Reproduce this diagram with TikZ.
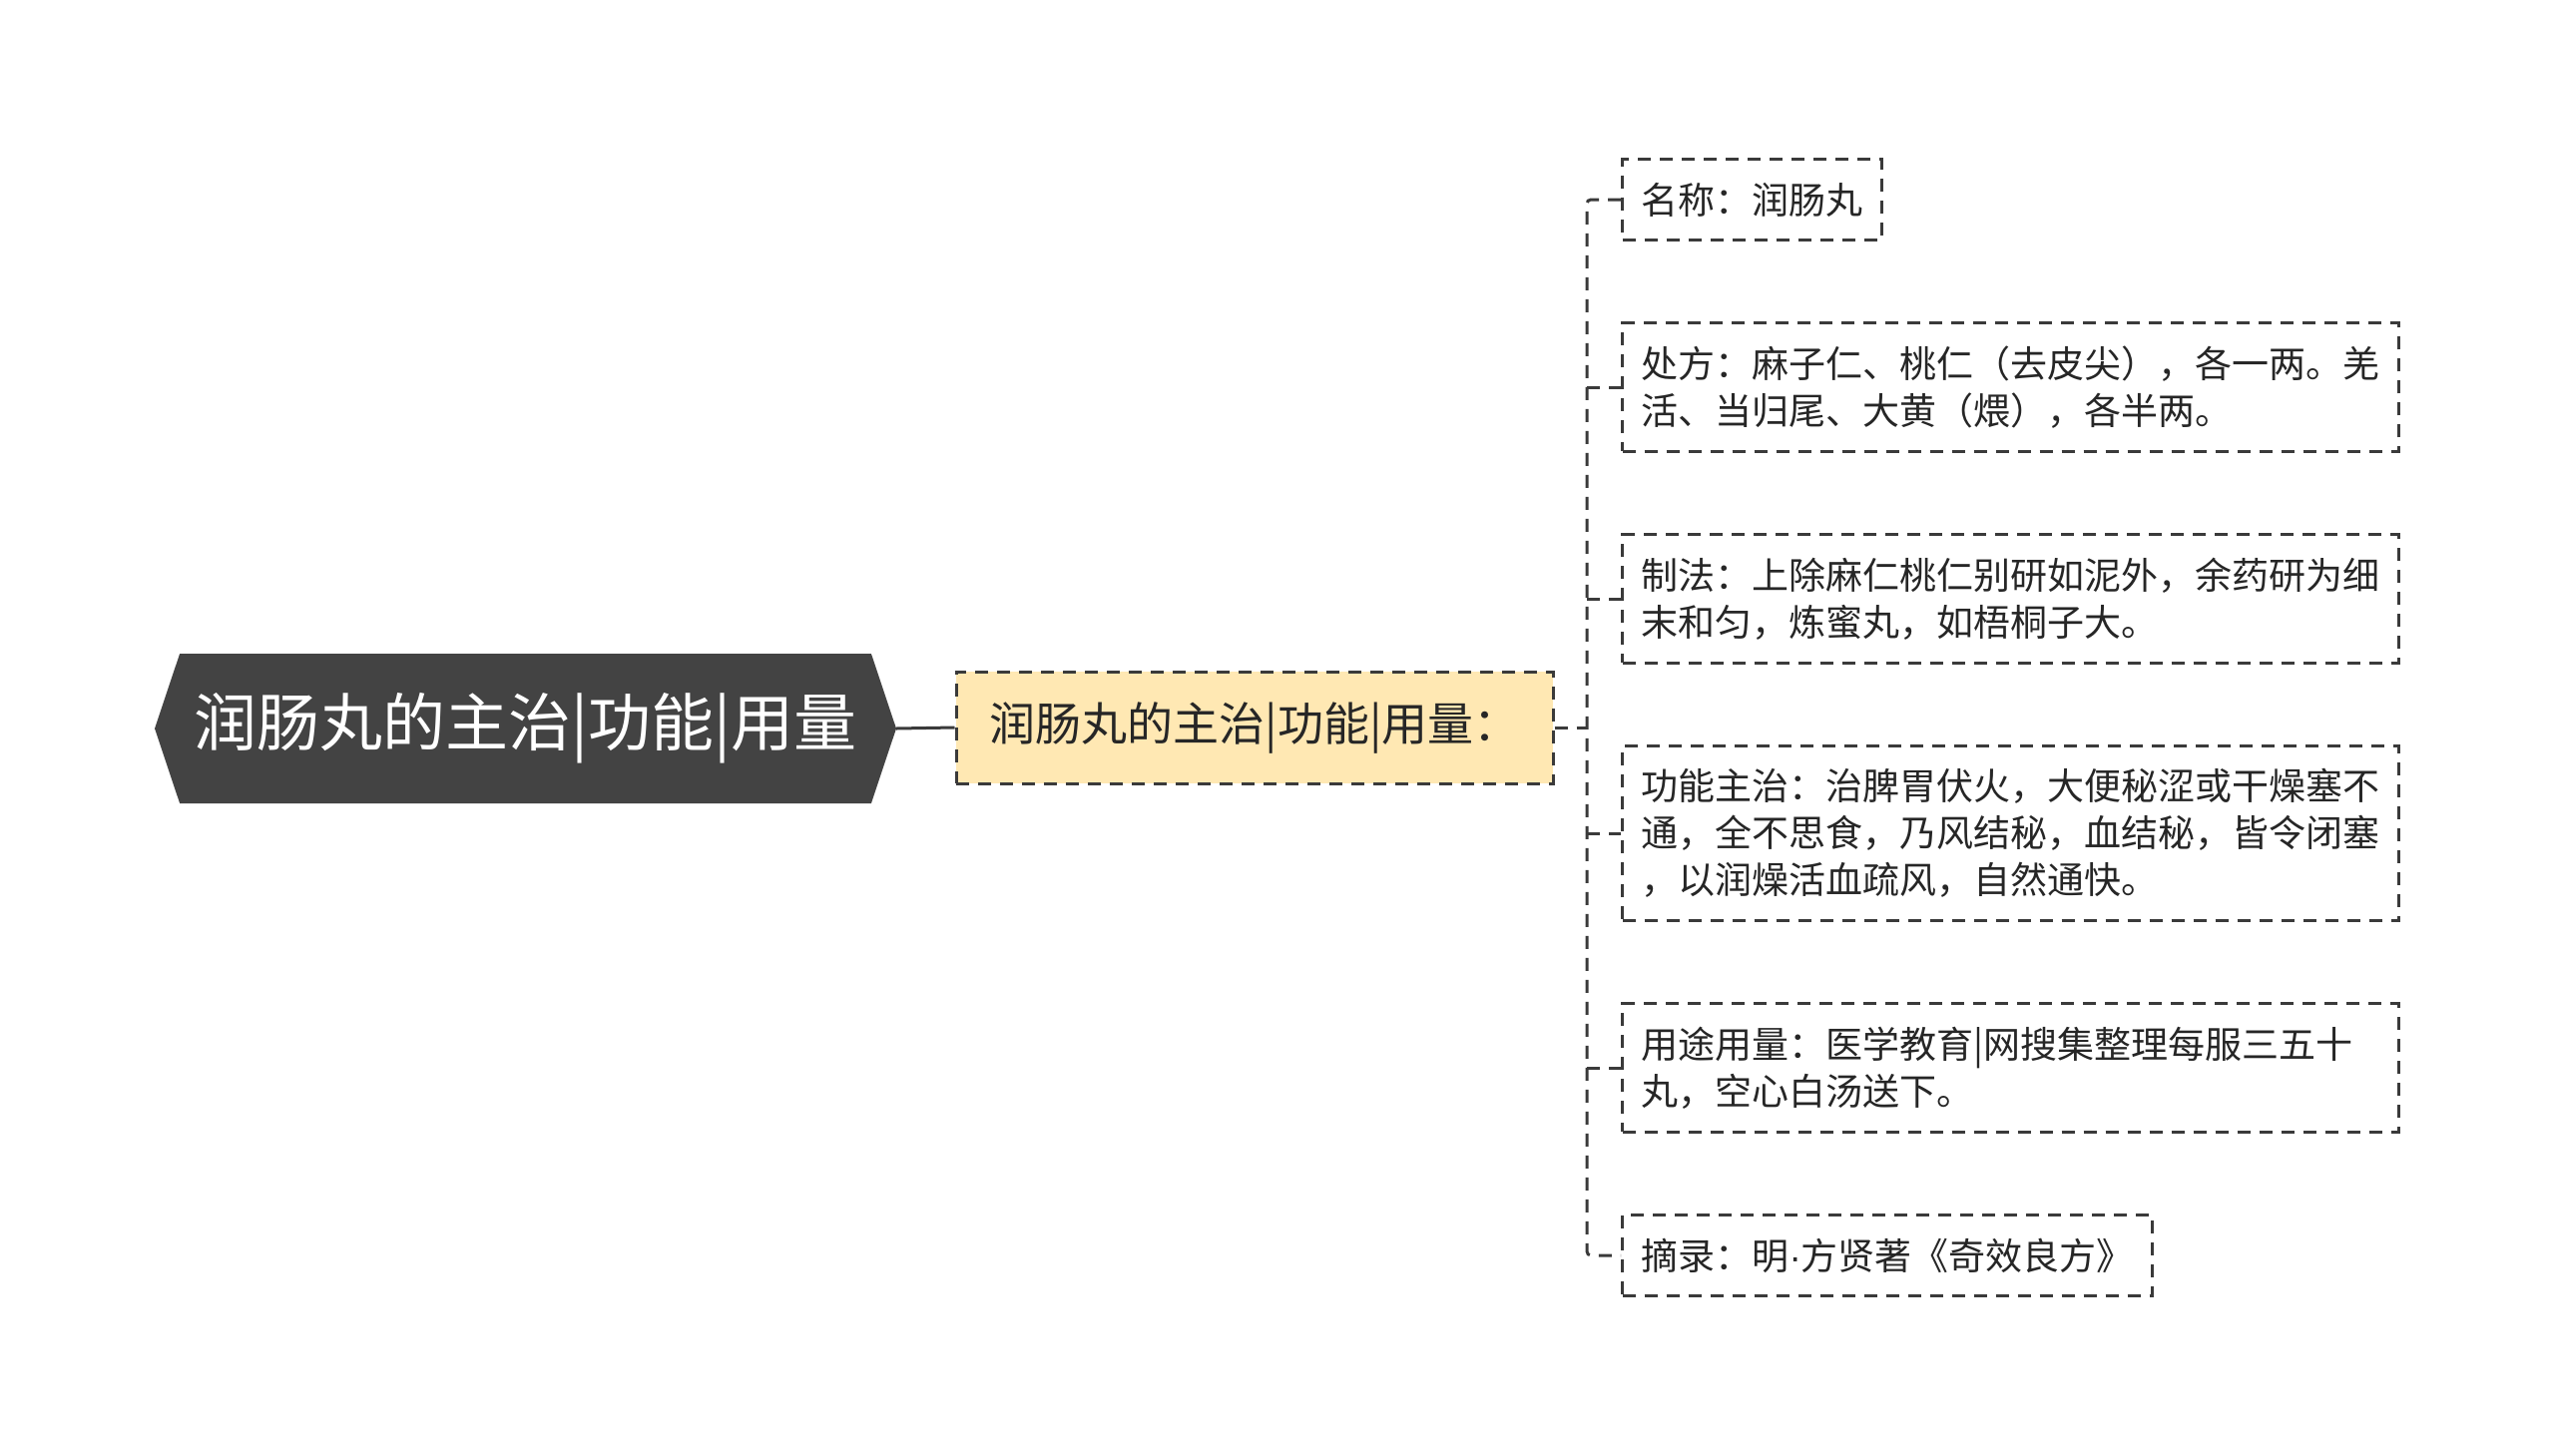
\documentclass[tikz,border=0pt]{standalone}
\usepackage{fontspec}
\setmainfont{Noto Sans CJK SC}
\newfontfamily\dotfont{Liberation Sans}
\usetikzlibrary{shapes.symbols}

\definecolor{rootgray}{HTML}{434343}
\definecolor{midfill}{HTML}{FFE8B3}
\definecolor{linegray}{HTML}{3A3A3A}

\tikzset{
  link/.style={draw=linegray, line width=3pt, dash pattern=on 13pt off 9pt},
  leaf/.style={link, anchor=west, align=left, inner xsep=19pt, inner ysep=23pt,
    text=black!85, font=\fontsize{37}{47}\selectfont},
  wide/.style={text width=740pt},
}

\begin{document}
\begin{tikzpicture}[x=1pt,y=-1pt]
\useasboundingbox (0,0) rectangle (2560,1459);

\node[shape=signal, signal to=west and east, signal pointer angle=143,
  fill=rootgray, text=white, minimum width=743pt, minimum height=150pt, inner sep=0pt,
  font=\fontsize{63}{70}\selectfont] (root) at (526.5,730) {润肠丸的主治|功能|用量};
\node[link, fill=midfill, text=black!85, minimum width=598pt, minimum height=112pt,
  font=\fontsize{46}{52}\selectfont] (mid) at (1257,729) {润肠丸的主治|功能|用量：};

\node[leaf] (name) at (1624,200) {名称：润肠丸};
\node[leaf, wide] (recipe) at (1624,388) {处方：麻子仁、桃仁（去皮尖），各一两。羌\\活、当归尾、大黄（煨），各半两。};
\node[leaf, wide] (method) at (1624,600) {制法：上除麻仁桃仁别研如泥外，余药研为细\\末和匀，炼蜜丸，如梧桐子大。};
\node[leaf, wide] (usage) at (1624,835) {功能主治：治脾胃伏火，大便秘涩或干燥塞不\\通，全不思食，乃风结秘，血结秘，皆令闭塞\\，以润燥活血疏风，自然通快。};
\node[leaf, wide] (dose) at (1624,1070) {用途用量：医学教育|网搜集整理每服三五十\\丸，空心白汤送下。};
\node[leaf] (source) at (1624,1258) {摘录：明{\dotfont·}方贤著《奇效良方》};

\coordinate (bus) at (1590,729);

\draw[linegray, line width=3pt] (root.east) -- (mid.west);
\path[link] (mid.east) -- (bus);
\path[link, rounded corners=4pt] (name.west) -| (bus) |- (source.west);
\path[link] (recipe.west -| bus) -- (recipe.west);
\path[link] (method.west -| bus) -- (method.west);
\path[link] (usage.west -| bus) -- (usage.west);
\path[link] (dose.west -| bus) -- (dose.west);
\end{tikzpicture}
\end{document}
